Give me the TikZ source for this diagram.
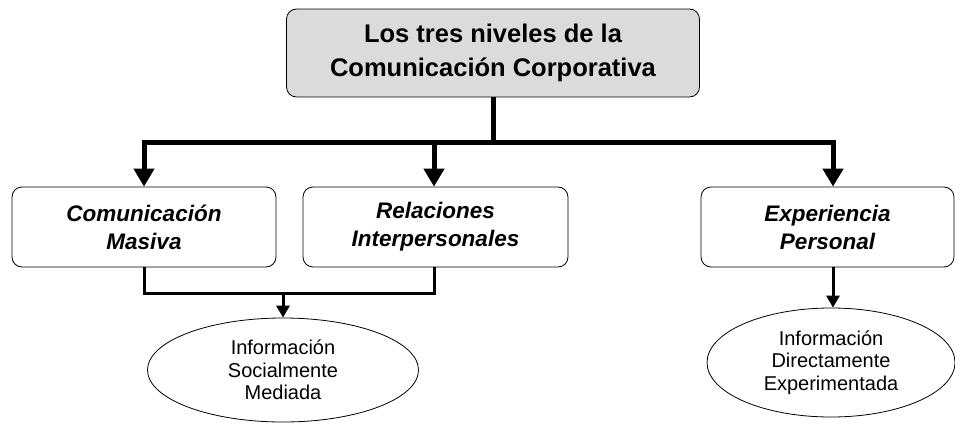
\documentclass[tikz,border=0pt]{standalone}
\usepackage{fontspec}
\setmainfont{Liberation Sans}
\usepackage{tikz}
\usetikzlibrary{shapes.geometric, arrows.meta, positioning}

\begin{document}
\begin{tikzpicture}[
    x=1pt, y=-1pt,
    box/.style={rectangle, draw, rounded corners=10pt, line width=0.8pt, align=center},
    titlebox/.style={box, fill=gray!28, minimum width=413pt, minimum height=88pt, font=\fontsize{25.5}{34}\selectfont\bfseries},
    level/.style={box, fill=white, minimum height=80pt, font=\fontsize{22.5}{28}\selectfont\bfseries\itshape},
    info/.style={ellipse, draw, line width=0.8pt, inner sep=0pt, align=center, font=\fontsize{20}{22.5}\selectfont},
    bigline/.style={line width=5pt},
    bigarrow/.style={-{Triangle[length=18pt, width=20pt]}, line width=5pt},
    smallline/.style={line width=3pt},
    smallarrow/.style={-{Triangle[length=12pt, width=13pt]}, line width=3pt},
]
    \useasboundingbox (0,0) rectangle (955,423);

    % Nodes
    \node[titlebox] (title) at (493,53) {Los tres niveles de la\\Comunicación Corporativa};
    \node[level, minimum width=264pt] (masiva) at (144,227) {Comunicación\\Masiva};
    \node[level, minimum width=265pt] (interp) at (435.5,227) {Relaciones\\Interpersonales};
    \node[level, minimum width=253pt] (experiencia) at (827.5,227) {Experiencia\\Personal};
    \node[info, minimum width=271pt, minimum height=104pt] (socmed) at (283,370) {Información\\Socialmente\\Mediada};
    \node[info, minimum width=248pt, minimum height=109pt] (expmed) at (831,362.5) {Información\\Directamente\\Experimentada};

    % Branch points
    \coordinate (split) at (493,142);
    \coordinate (barL) at (144,142);
    \coordinate (barM) at (434,142);
    \coordinate (barR) at (833,142);
    \coordinate (join) at (283,293);

    % Arrows
    \draw[bigline] (title.south) -- (split);
    \draw[bigline, line cap=rect] (barL) -- (barR);
    \draw[bigarrow] (barL) -- (masiva.north);
    \draw[bigarrow] (barM) -- (barM |- interp.north);
    \draw[bigarrow] (barR) -- (barR |- experiencia.north);
    \draw[smallline] (masiva.south) |- (join) -| (barM |- interp.south);
    \draw[smallarrow] (join) -- (socmed.north);
    \draw[smallarrow] (barR |- experiencia.south) -- (barR |- expmed.north);
\end{tikzpicture}
\end{document}
